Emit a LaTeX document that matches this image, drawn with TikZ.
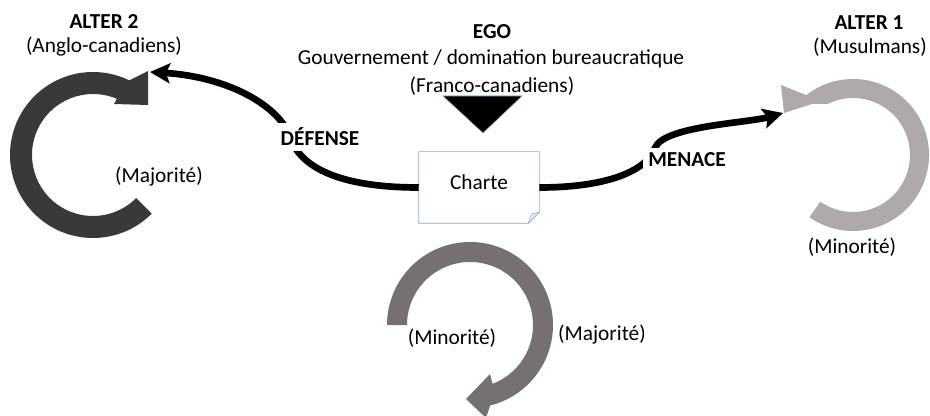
\documentclass[tikz,border=0pt]{standalone}
\usepackage{fontspec}
\setmainfont{Carlito}
\usetikzlibrary{arrows.meta,calc}
\definecolor{ringdark}{HTML}{3B3838}
\definecolor{ringmid}{HTML}{767171}
\definecolor{ringlight}{HTML}{AEAAAA}
\definecolor{noteline}{HTML}{8EA4C8}
\begin{document}
\begin{tikzpicture}[x=0.75pt,y=-0.75pt,
  txt/.style={font=\fontsize{16}{19.5}\selectfont,inner sep=1pt},
  head/.style={font=\fontsize{16}{19.5}\selectfont\bfseries,inner sep=1pt},
  cue/.style={font=\fontsize{16}{19.5}\selectfont\bfseries,fill=white,inner sep=4pt},
  link/.style={line width=5pt,-{Stealth[length=15pt,width=15pt,inset=3pt]}}]
\useasboundingbox (0,0) rectangle (930,416);

\coordinate (L) at (93,155);
\coordinate (R) at (853,155);
\coordinate (B) at (470,325);

\fill[ringdark] ($(L)+(45:83)$) arc[start angle=45,end angle=296,radius=83]
  -- (148,71) -- (148,105) -- (114,104) -- ($(L)+(293:61)$)
  arc[start angle=293,end angle=45,radius=61] -- cycle;
\fill[ringlight] ($(R)+(125:76)$) arc[start angle=125,end angle=-128,radius=76]
  -- (781,85) -- (784,113) -- (812,104) -- ($(R)+(-116:57)$)
  arc[start angle=-116,end angle=125,radius=57] -- cycle;
\fill[ringmid] ($(B)+(180:83)$) arc[start angle=180,end angle=436,radius=83]
  -- (486,418) -- (466,399) -- (490,374) -- ($(B)+(429:63)$)
  arc[start angle=429,end angle=180,radius=63] -- cycle;

\draw[noteline,fill=black] (443,96) -- (522,96) -- (483,133) -- cycle;

\node[minimum width=90pt,minimum height=53.25pt,inner sep=0pt] (charte) at (479,187.5) {};
\draw[noteline,fill=white] (charte.north west) -- (charte.north east)
  -- ($(charte.south east)+(0,-11)$) -- ($(charte.south east)+(-11,0)$)
  -- (charte.south west) -- cycle;
\draw[noteline,fill=noteline!20] ($(charte.south east)+(0,-11)$)
  -- ($(charte.south east)+(-8,-9)$) -- ($(charte.south east)+(-11,0)$) -- cycle;
\node[txt] (chartetxt) at ($(charte)+(0,-5)$) {Charte};

\coordinate (deftip) at (150,72);
\coordinate (mentip) at (783,113);
\draw[link] (charte.west) .. controls +(-80,0) and +(10,30) .. (290,137)
  .. controls +(-10,-30) and +(80,5) .. (deftip);
\draw[link] (charte.east) .. controls +(70,0) and +(-8,22) .. (655,148)
  .. controls +(8,-22) and +(-35,10) .. (mentip);
\node[cue] (defense) at (320,137) {DÉFENSE};
\node[cue] (menace) at (687,160) {MENACE};

\node[head] (alter2) at (104,22) {ALTER 2};
\node[txt] (anglo) at (104,47) {(Anglo-canadiens)};
\node[head] (ego) at (492,32) {EGO};
\node[txt] (gouv) at (491,59) {Gouvernement / domination bureaucratique};
\node[txt] (franco) at (492,86) {(Franco-canadiens)};
\node[head] (alter1) at (869,23) {ALTER 1};
\node[txt] (musul) at (870,47) {(Musulmans)};

\node[txt] (majl) at (159,177) {(Majorité)};
\node[txt] (minr) at (852,247) {(Minorité)};
\node[txt] (minb) at (452,338) {(Minorité)};
\node[txt] (majb) at (602,335) {(Majorité)};
\end{tikzpicture}
\end{document}
